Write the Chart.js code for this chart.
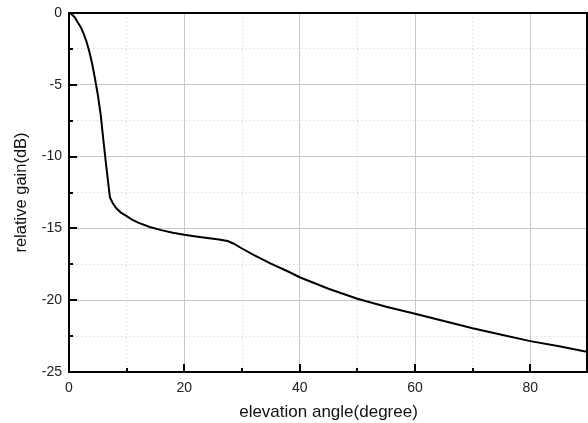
<!DOCTYPE html>
<html>
<head>
<meta charset="utf-8">
<script src="https://cdn.jsdelivr.net/npm/chart.js@4.4.1/dist/chart.umd.min.js"></script>
<style>
  html, body { margin: 0; padding: 0; background: #fff; }
  #wrap { width: 588px; height: 423px; position: relative; }
</style>
</head>
<body>
<div id="wrap"><canvas id="myChart" width="588" height="423"></canvas></div>
<script>
// elevation angle (degree)
const angulos = [0, 0.5, 1, 1.5, 2, 2.5, 3, 3.5, 4, 4.5, 5, 5.5, 6, 6.5, 7.1, 7.6, 8.2, 9, 10, 11, 12, 14, 16, 18, 20, 22, 24, 26, 27.5, 28.5, 30, 32, 35, 38, 40, 45, 50, 55, 60, 65, 70, 75, 80, 85, 90];
// relative gain (dB)
const ganancia = [0, -0.1, -0.3, -0.65, -0.95, -1.4, -1.95, -2.65, -3.5, -4.55, -5.7, -7.1, -9.0, -10.8, -12.85, -13.25, -13.6, -13.9, -14.15, -14.4, -14.6, -14.9, -15.12, -15.3, -15.44, -15.56, -15.67, -15.77, -15.88, -16.05, -16.4, -16.85, -17.45, -18.0, -18.4, -19.2, -19.9, -20.45, -20.95, -21.45, -21.95, -22.4, -22.85, -23.2, -23.6];

const xTicks = [0, 20, 40, 60, 80];
const yTicks = [0, -5, -10, -15, -20, -25];
const xTitulo = 'elevation angle(degree)';
const yTitulo = 'relative gain(dB)';

const puntos = angulos.map((a, i) => ({x: a, y: ganancia[i]}));

// marco negro y marcas hacia adentro
const marco = {
    id: 'marco',
    afterDraw(chart) {
        const {ctx, chartArea: ca, scales} = chart;
        ctx.save();
        ctx.strokeStyle = '#000';
        ctx.lineWidth = 2;
        ctx.strokeRect(ca.left, ca.top, ca.right - ca.left - 1, ca.bottom - ca.top);
        for (let v = 0; v <= 90; v += 10) {
            const px = Math.round(scales.x.getPixelForValue(v));
            const len = v % 20 === 0 ? 8 : 4;
            ctx.beginPath();
            ctx.moveTo(px, ca.bottom);
            ctx.lineTo(px, ca.bottom - len);
            ctx.stroke();
        }
        for (let v = 0; v >= -25; v -= 2.5) {
            const py = Math.round(scales.y.getPixelForValue(v));
            const len = v % 5 === 0 ? 8 : 4;
            ctx.beginPath();
            ctx.moveTo(ca.left, py);
            ctx.lineTo(ca.left + len, py);
            ctx.stroke();
        }
        ctx.restore();
    }
};

const ctx = document.getElementById('myChart');
const myChart = new Chart(ctx, {
    type: 'scatter',
    data: {
        datasets: [{
            label: 'gain',
            data: puntos,
            showLine: true,
            borderColor: '#000',
            borderWidth: 2,
            pointRadius: 0,
            tension: 0
        }]
    },
    options: {
        responsive: false,
        animation: false,
        layout: { padding: { top: 13, right: 0, left: 0, bottom: 0 }, autoPadding: false },
        plugins: { legend: { display: false }, tooltip: { enabled: false } },
        scales: {
            x: {
                type: 'linear',
                min: 0, max: 90,
                afterFit: (s) => { s.height = 51; s.paddingRight = 0; s.paddingLeft = 0; },
                afterBuildTicks: (s) => { s.ticks = [0,10,20,30,40,50,60,70,80,90].map(v => ({value: v})); },
                ticks: {
                    color: '#222',
                    font: { family: 'Liberation Sans, Arial', size: 14 },
                    padding: 8,
                    maxRotation: 0,
                    callback: (v) => xTicks.includes(v) ? String(v) : ''
                },
                grid: {
                    drawTicks: false,
                    color: (c) => (c.tick && c.tick.value % 20 === 0) ? '#c8c8c8' : '#d0d0d0',
                    lineWidth: 1
                },
                border: {
                    display: false,
                    dash: (c) => (c.tick && c.tick.value % 20 === 0) ? [] : [1, 3]
                },
                title: {
                    display: true,
                    text: xTitulo,
                    color: '#111',
                    font: { family: 'Liberation Sans, Arial', size: 17 },
                    padding: { top: 4, bottom: 0 }
                }
            },
            y: {
                type: 'linear',
                min: -25, max: 0,
                afterFit: (s) => { s.width = 69; s.paddingTop = 0; s.paddingBottom = 0; },
                afterBuildTicks: (s) => {
                    const t = [];
                    for (let v = -25; v <= 0; v += 2.5) t.push({value: v});
                    s.ticks = t;
                },
                ticks: {
                    color: '#222',
                    font: { family: 'Liberation Sans, Arial', size: 14 },
                    padding: 7,
                    callback: (v) => yTicks.includes(v) ? String(v) : ''
                },
                grid: {
                    drawTicks: false,
                    color: (c) => (c.tick && c.tick.value % 5 === 0) ? '#c8c8c8' : '#d0d0d0',
                    lineWidth: 1
                },
                border: {
                    display: false,
                    dash: (c) => (c.tick && c.tick.value % 5 === 0) ? [] : [1, 3]
                },
                title: {
                    display: true,
                    text: yTitulo,
                    color: '#111',
                    font: { family: 'Liberation Sans, Arial', size: 16.5 },
                    padding: { top: 12, bottom: 0 }
                }
            }
        }
    },
    plugins: [marco]
});
</script>
</body>
</html>
